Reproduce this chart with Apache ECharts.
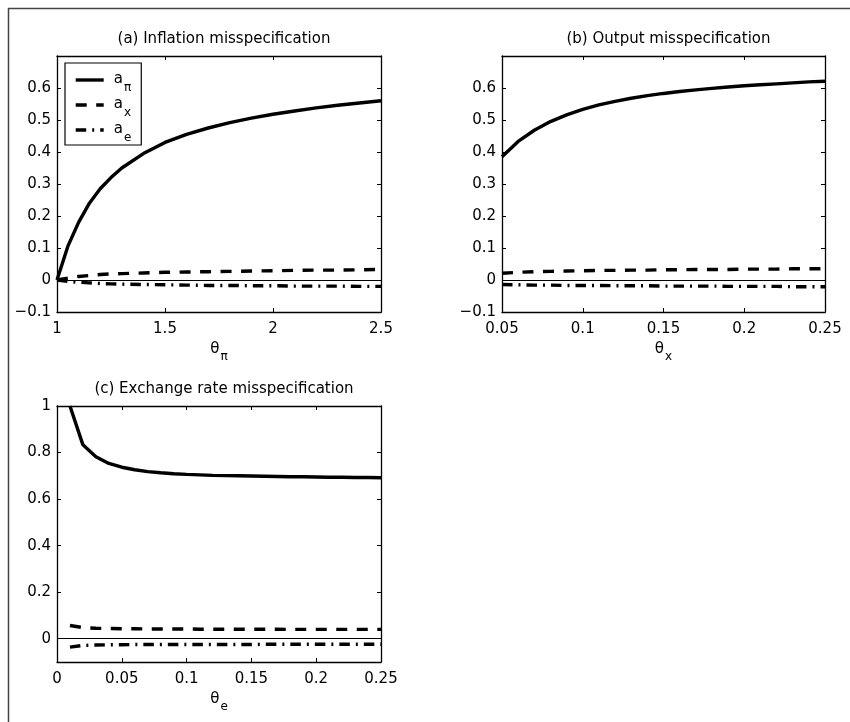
<!DOCTYPE html>
<html><head><meta charset="utf-8">
<script src="https://cdn.jsdelivr.net/npm/echarts@6/dist/echarts.min.js"></script>
<style>html,body{margin:0;padding:0;background:#fff}#c{width:850px;height:722px}</style>
</head><body><div id="c"></div>
<script>
// ---- Panel (a): Inflation misspecification ----
const thetaPi = [1.0,1.05,1.1,1.15,1.2,1.25,1.3,1.4,1.5,1.6,1.7,1.8,1.9,2.0,2.1,2.2,2.3,2.4,2.5];
const aPi_a = [0,0.105,0.18,0.24,0.285,0.32,0.35,0.395,0.43,0.455,0.475,0.492,0.506,0.518,0.528,0.538,0.546,0.553,0.56];
const aX_a  = [0,0.006,0.011,0.014,0.017,0.019,0.02,0.022,0.024,0.025,0.026,0.027,0.028,0.029,0.03,0.031,0.031,0.032,0.033];
const aE_a  = [0,-0.004,-0.007,-0.009,-0.011,-0.012,-0.013,-0.014,-0.015,-0.016,-0.017,-0.017,-0.018,-0.018,-0.019,-0.019,-0.019,-0.02,-0.02];

// ---- Panel (b): Output misspecification ----
const thetaX = [0.05,0.06,0.07,0.08,0.09,0.10,0.11,0.12,0.13,0.14,0.15,0.16,0.17,0.18,0.19,0.20,0.21,0.22,0.23,0.24,0.25];
const aPi_b = [0.385,0.433,0.468,0.495,0.516,0.533,0.547,0.558,0.568,0.576,0.583,0.589,0.594,0.599,0.603,0.607,0.610,0.613,0.616,0.619,0.621];
const aX_b  = [0.021,0.024,0.026,0.027,0.028,0.029,0.030,0.030,0.031,0.031,0.032,0.032,0.033,0.033,0.033,0.034,0.034,0.034,0.035,0.035,0.035];
const aE_b  = [-0.014,-0.015,-0.016,-0.016,-0.017,-0.017,-0.017,-0.018,-0.018,-0.018,-0.019,-0.019,-0.019,-0.019,-0.020,-0.020,-0.020,-0.020,-0.021,-0.021,-0.021];

// ---- Panel (c): Exchange rate misspecification ----
const thetaE = [0.01,0.02,0.03,0.04,0.05,0.06,0.07,0.08,0.09,0.10,0.11,0.12,0.13,0.14,0.15,0.16,0.17,0.18,0.19,0.20,0.21,0.22,0.23,0.24,0.25];
const aPi_c = [1.0,0.833,0.782,0.753,0.737,0.726,0.718,0.713,0.709,0.706,0.704,0.702,0.701,0.700,0.699,0.698,0.697,0.696,0.696,0.695,0.694,0.694,0.693,0.693,0.692];
const aX_c  = [0.057,0.048,0.045,0.044,0.043,0.043,0.042,0.042,0.042,0.042,0.041,0.041,0.041,0.041,0.041,0.041,0.041,0.040,0.040,0.040,0.040,0.040,0.040,0.040,0.040];
const aE_c  = [-0.036,-0.029,-0.027,-0.026,-0.026,-0.025,-0.025,-0.025,-0.025,-0.025,-0.025,-0.025,-0.025,-0.025,-0.025,-0.024,-0.024,-0.024,-0.024,-0.024,-0.024,-0.024,-0.024,-0.024,-0.024];

// ---- Tick labels ----
const xTicksA = [1,1.5,2,2.5];
const xTicksB = [0.05,0.1,0.15,0.2,0.25];
const xTicksC = [0,0.05,0.1,0.15,0.2,0.25];
const yTicksAB = [-0.1,0,0.1,0.2,0.3,0.4,0.5,0.6];
const yTicksC = [0,0.2,0.4,0.6,0.8,1];

const titles = ['(a) Inflation misspecification','(b) Output misspecification','(c) Exchange rate misspecification'];
const seriesNames = ['a_pi','a_x','a_e'];
const legendSubs = {a_pi:'π', a_x:'x', a_e:'e'};
const xNames = ['π','x','e'];

const FONT = 'DejaVu Sans';
const FS = 15;
const grids = [
  {left:57, top:56, width:324, height:256},
  {left:502, top:56, width:323, height:256},
  {left:57, top:406, width:324, height:256}
];
const ranges = [
  {xmin:1, xmax:2.5, ymin:-0.1, ymax:0.7, xt:xTicksA, yt:yTicksAB},
  {xmin:0.05, xmax:0.25, ymin:-0.1, ymax:0.7, xt:xTicksB, yt:yTicksAB},
  {xmin:0, xmax:0.25, ymin:-0.1, ymax:1, xt:xTicksC, yt:yTicksC}
];
const fmt = v => v < 0 ? '\u2212' + String(-v) : String(v);
const subRich = {
  t:{fontFamily:FONT, fontSize:FS, color:'#000', lineHeight:16, verticalAlign:'top'},
  s:{fontFamily:FONT, fontSize:12, color:'#000', lineHeight:12, padding:[9,0,0,1], verticalAlign:'top'}
};
const legendRich = {
  t:{fontFamily:FONT, fontSize:FS, color:'#000', lineHeight:16, verticalAlign:'top', padding:[0,0,0,5]},
  s:{fontFamily:FONT, fontSize:12, color:'#000', lineHeight:12, padding:[10,0,0,1], verticalAlign:'top'}
};
const lineW = 3.4;
const styles = {
  a_pi:{type:'solid'},
  a_x:{type:[11,9.5]},
  a_e:{type:[10.5,6,2,6]}
};

const xAxes = [], yAxes = [], series = [], title = [];
ranges.forEach((r, g) => {
  const axLine = {show:true, onZero:false, lineStyle:{color:'#000', width:1.3}};
  const tickStyle = {color:'#000', width:1};
  xAxes.push({type:'value', gridIndex:g, min:r.xmin, max:r.xmax, position:'bottom',
    axisLine:axLine, splitLine:{show:false},
    axisTick:{show:true, inside:true, length:4, customValues:r.xt, lineStyle:tickStyle},
    axisLabel:{show:true, customValues:r.xt, formatter:fmt, color:'#000', fontSize:FS, fontFamily:FONT, margin:10},
    name:'{t|θ}{s|' + xNames[g] + '}', nameLocation:'middle', nameGap:30,
    nameTextStyle:{rich:subRich}
  });
  xAxes.push({type:'value', gridIndex:g, min:r.xmin, max:r.xmax, position:'top',
    axisLine:axLine, splitLine:{show:false},
    axisTick:{show:true, inside:true, length:4, customValues:r.xt, lineStyle:tickStyle},
    axisLabel:{show:false}
  });
  yAxes.push({type:'value', gridIndex:g, min:r.ymin, max:r.ymax, position:'left',
    axisLine:axLine, splitLine:{show:false},
    axisTick:{show:true, inside:true, length:4, customValues:r.yt, lineStyle:tickStyle},
    axisLabel:{show:true, customValues:r.yt, formatter:fmt, color:'#000', fontSize:FS, fontFamily:FONT, margin:6}
  });
  yAxes.push({type:'value', gridIndex:g, min:r.ymin, max:r.ymax, position:'right',
    axisLine:axLine, splitLine:{show:false},
    axisTick:{show:true, inside:true, length:4, customValues:r.yt, lineStyle:tickStyle},
    axisLabel:{show:false}
  });
  const gr = grids[g];
  title.push({text:titles[g], left: gr.left + gr.width/2, top: gr.top - 29, textAlign:'center',
    textStyle:{fontFamily:FONT, fontSize:FS, fontWeight:'normal', color:'#000'}});
});

const panelData = [
  {xs:thetaPi, ys:[aPi_a, aX_a, aE_a]},
  {xs:thetaX,  ys:[aPi_b, aX_b, aE_b]},
  {xs:thetaE,  ys:[aPi_c, aX_c, aE_c]}
];
panelData.forEach((p, g) => {
  p.ys.forEach((ys, k) => {
    const name = seriesNames[k];
    const s = {type:'line', name, xAxisIndex:2*g, yAxisIndex:2*g,
      data: p.xs.map((x,i) => [x, ys[i]]),
      symbol:'none', showSymbol:false, clip:true, z: 5 - k,
      lineStyle:{color:'#000', width:lineW, type:styles[name].type, cap:'butt'},
      itemStyle:{color:'#000'}
    };
    if (k === 0) {
      s.markLine = {silent:true, symbol:'none', label:{show:false}, animation:false,
        lineStyle:{type:'solid', color:'#000', width:1}, data:[{yAxis:0}]};
    }
    series.push(s);
  });
});

const option = {
  animation:false,
  backgroundColor:'#fff',
  title,
  grid: grids.map(g => Object.assign({containLabel:false}, g)),
  xAxis: xAxes,
  yAxis: yAxes,
  legend:{left:65, top:63, orient:'vertical', data:seriesNames, selectedMode:false,
    borderColor:'#000', borderWidth:1.2, backgroundColor:'#fff',
    padding:[9,10,1,9], itemWidth:28, itemHeight:14, itemGap:3,
    itemStyle:{color:'rgba(0,0,0,0)', borderWidth:0, opacity:0},
    lineStyle:{width:3.4, color:'#000'},
    formatter: n => '{t|a}{s|' + legendSubs[n] + '}',
    textStyle:{rich:legendRich}
  },
  graphic:[
    {type:'line', silent:true, shape:{x1:8, y1:8.5, x2:850, y2:8.5}, style:{stroke:'#444', lineWidth:1.5}},
    {type:'line', silent:true, shape:{x1:8.5, y1:8, x2:8.5, y2:722}, style:{stroke:'#444', lineWidth:1.5}}
  ],
  series
};
const chart = echarts.init(document.getElementById('c'), null, {renderer:'canvas'});
chart.setOption(option);
</script></body></html>
